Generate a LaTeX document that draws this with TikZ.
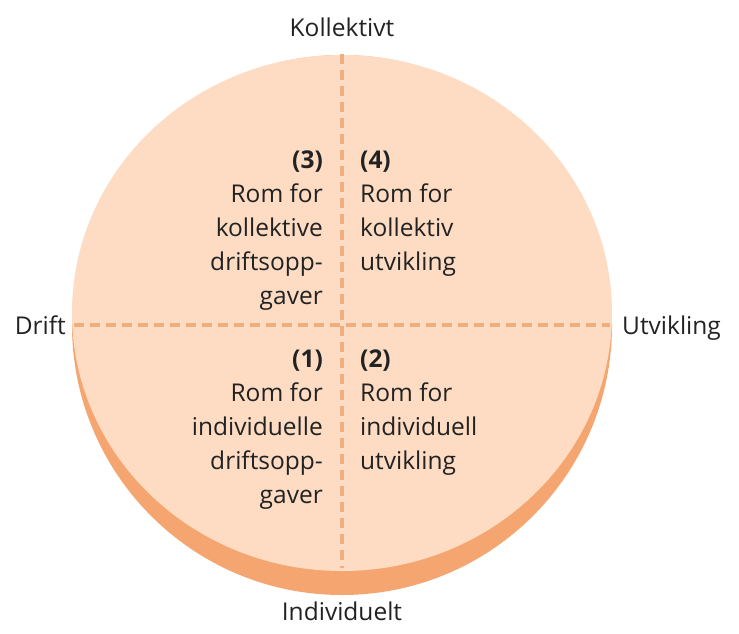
\documentclass[tikz,border=0pt]{standalone}
\usepackage{fontspec}
\setmainfont{Open Sans}
\definecolor{facecol}{HTML}{FDDCC3}
\definecolor{rimcol}{HTML}{F5A670}
\definecolor{dashcol}{HTML}{EFAE7E}
\definecolor{inkcol}{HTML}{222222}
\begin{document}
\begin{tikzpicture}[x=1pt,y=-1pt,
    txt/.style={inner sep=0pt,text=inkcol,font=\fontsize{24.5}{34}\selectfont},
    axisline/.style={dashcol,line width=3.5pt,dash pattern=on 10pt off 6pt}]
    \useasboundingbox (0,0) rectangle (739,633);
    % disc: rim below, face on top
    \fill[rimcol] (342,325) circle[radius=270];
    \fill[facecol] (342,313) ellipse[x radius=270,y radius=258];
    % axes
    \coordinate (top) at (342,54);
    \coordinate (bot) at (342,568);
    \coordinate (lft) at (74,325);
    \coordinate (rgt) at (610,325);
    \draw[axisline] (top) -- (bot);
    \draw[axisline] (lft) -- (rgt);
    % axis labels
    \node[txt,anchor=base] (kol) at (342,36) {Kollektivt};
    \node[txt,anchor=base] (ind) at (342,620) {Individuelt};
    \node[txt,anchor=base east] (drift) at (66,334) {Drift};
    \node[txt,anchor=base west] (utv) at (622,334) {Utvikling};
    % quadrants
    \node[txt,anchor=north east,align=right] (q3) at (323,151) {\textbf{(3)}\\Rom for\\kollektive\\driftsopp-\\gaver};
    \node[txt,anchor=north west,align=left] (q4) at (360,151) {\textbf{(4)}\\Rom for\\kollektiv\\utvikling};
    \node[txt,anchor=north east,align=right] (q1) at (323,350) {\textbf{(1)}\\Rom for\\individuelle\\driftsopp-\\gaver};
    \node[txt,anchor=north west,align=left] (q2) at (360,350) {\textbf{(2)}\\Rom for\\individuell\\utvikling};
\end{tikzpicture}
\end{document}
